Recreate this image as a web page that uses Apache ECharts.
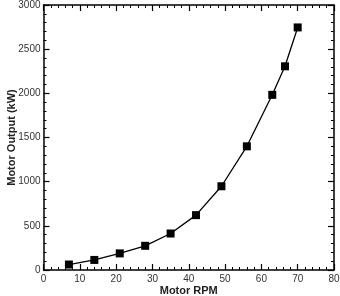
<!DOCTYPE html>
<html><head><meta charset="utf-8">
<script src="https://cdn.jsdelivr.net/npm/echarts@6/dist/echarts.min.js"></script>
<style>html,body{margin:0;padding:0;background:#fff}#c{width:340px;height:296px}</style>
</head><body><div id="c"></div>
<script>
const rpm = [7, 14, 21, 28, 35, 42, 49, 56, 63, 66.5, 70];
const outputKW = [62, 114, 188, 274, 413, 621, 948, 1400, 1983, 2306, 2746];
const xTicks = [0, 80, 10];
const yTicks = [0, 3000, 500];

const chart = echarts.init(document.getElementById('c'));
const font = 'Liberation Sans, Arial, sans-serif';
const axisLine = {show: true, onZero: false, lineStyle: {color: '#000', width: 1.5}};
const tick = {show: true, inside: true, length: 6, lineStyle: {color: '#000', width: 1.2}};
const minor = {show: true, inside: true, splitNumber: 5, length: 3, lineStyle: {color: '#000', width: 1}};
const lbl = {color: '#333', fontFamily: font, fontSize: 10, formatter: v => String(v)};
function xa(pos, show) {
  return {type: 'value', position: pos, min: xTicks[0], max: xTicks[1], interval: xTicks[2],
    axisLine, axisTick: tick, minorTick: minor, splitLine: {show: false},
    axisLabel: Object.assign({show: show, margin: 4}, lbl),
    name: show ? 'Motor RPM' : '', nameLocation: 'middle', nameGap: 15, nameMoveOverlap: false,
    nameTextStyle: {fontFamily: font, fontSize: 11, fontWeight: 'bold', color: '#222'}};
}
function ya(pos, show) {
  return {type: 'value', position: pos, min: yTicks[0], max: yTicks[1], interval: yTicks[2],
    axisLine, axisTick: tick, minorTick: minor, splitLine: {show: false},
    axisLabel: Object.assign({show: show, margin: 3}, lbl),
    name: show ? 'Motor Output (kW)' : '', nameLocation: 'middle', nameGap: 26, nameMoveOverlap: false,
    nameTextStyle: {fontFamily: font, fontSize: 11, fontWeight: 'bold', color: '#222'}};
}
chart.setOption({
  animation: false,
  grid: {left: 43.5, right: 6, top: 5, bottom: 26, containLabel: false, outerBoundsMode: 'none'},
  xAxis: [xa('bottom', true), xa('top', false)],
  yAxis: [ya('left', true), ya('right', false)],
  series: [{type: 'line', data: rpm.map((x, i) => [x, outputKW[i]]),
    symbol: 'rect', symbolSize: 8, showSymbol: true,
    lineStyle: {color: '#000', width: 1.3}, itemStyle: {color: '#000'}}]
});
</script></body></html>
